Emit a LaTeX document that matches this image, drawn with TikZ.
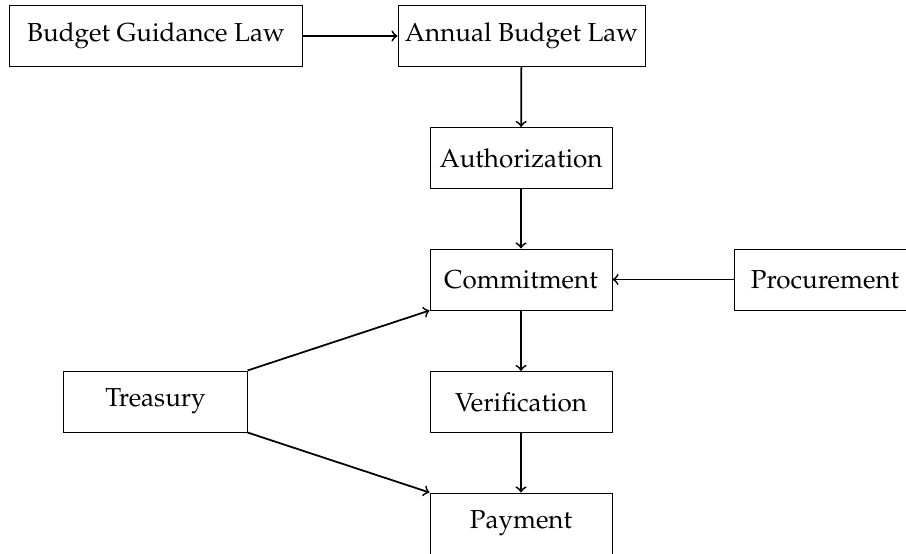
\documentclass[tikz,border=0pt]{standalone}
\usepackage[T1]{fontenc}
\usepackage{mathpazo}
\begin{document}
\begin{tikzpicture}[x=0.4pt,y=-0.4pt,
  box/.style={draw, line width=0.4pt, inner sep=0pt, minimum height=24.4pt, font=\fontsize{10.4}{12}\selectfont},
  w182/.style={minimum width=72.8pt},
  conn/.style={->, line width=0.7pt}]
\clip (0,0) rectangle (906,553);
\node[box, minimum width=116.8pt] (bgl) at (156,36) {Budget Guidance Law};
\node[box, minimum width=98.8pt] (abl) at (521.5,36) {Annual Budget Law};
\node[box, w182] (auth) at (521,158) {Authorization};
\node[box, w182] (com) at (521,279.5) {Commitment};
\node[box, w182] (proc) at (825,279.5) {Procurement};
\node[box, w182] (ver) at (521,402) {Verification};
\node[box, w182] (pay) at (521,523.5) {Payment};
\node[box, minimum width=73.2pt] (tre) at (155.5,401.5) {Treasury};
\draw[conn] (bgl) -- (abl);
\draw[conn] (abl) -- (auth);
\draw[conn] (auth) -- (com);
\draw[conn] (proc) -- (com);
\draw[conn] (com) -- (ver);
\draw[conn] (ver) -- (pay);
\draw[conn] (tre.north east) -- (com.south west);
\draw[conn] (tre.south east) -- (pay.north west);
\end{tikzpicture}
\end{document}
